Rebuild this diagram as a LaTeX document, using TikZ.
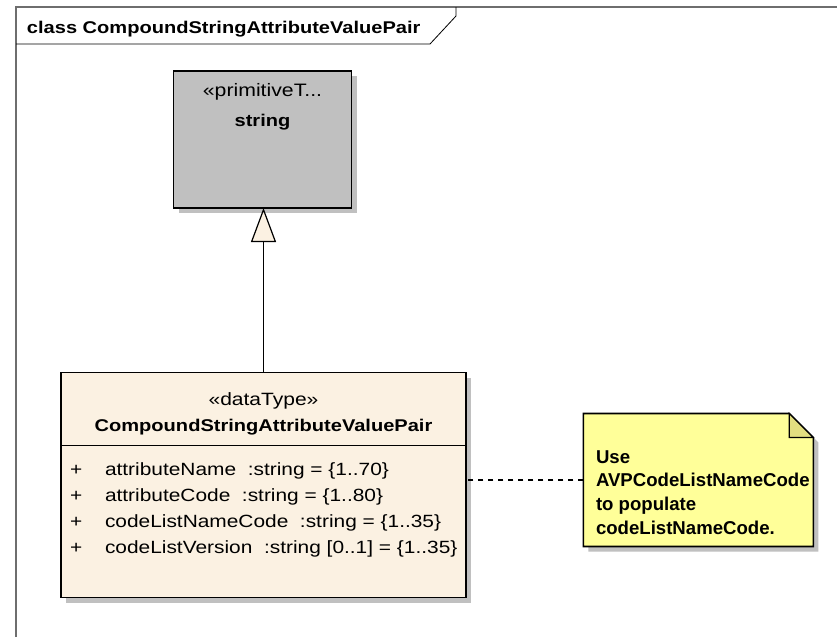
\documentclass[tikz,border=0pt]{standalone}
\usepackage{fontspec}
\setmainfont{Liberation Sans}[FakeStretch=1.18]
\newfontfamily\notefont{Liberation Sans}
\usetikzlibrary{arrows.meta,shadows,calc}
\newcommand\fsz[1]{\fontsize{#1}{#1}\selectfont}
\definecolor{dtfill}{RGB}{251,241,226}
\definecolor{notefill}{RGB}{255,255,153}
\definecolor{foldfill}{RGB}{226,222,128}
\definecolor{primfill}{RGB}{192,192,192}
\definecolor{shadowc}{RGB}{192,192,192}
\definecolor{framec}{RGB}{110,110,110}
\tikzset{
  box/.style={draw=black, line width=1.6pt, rectangle, inner sep=0pt, outer sep=0pt,
    drop shadow={shadow xshift=5pt, shadow yshift=-5pt, fill=shadowc, opacity=1}},
  txt/.style={inner sep=0pt, outer sep=0pt, anchor=base, font=\fsz{17.8}},
  attr/.style={inner sep=0pt, outer sep=0pt, anchor=base west, font=\fsz{17.7}},
  notetxt/.style={inner sep=0pt, outer sep=0pt, anchor=base west, font=\notefont\bfseries\fsz{18.6}},
}
\begin{document}
\begin{tikzpicture}[x=1pt,y=-1pt]
\useasboundingbox (0,0) rectangle (837,637);
\fill[white] (0,0) rectangle (837,637);
% frame
\draw[framec, line width=1.5pt] (16,637) -- (16,7) -- (837,7);
\draw[black, line width=0.8pt] (16,44) -- (430,44) -- (456,16) -- (456,7);
\node[txt, anchor=base west, font=\bfseries\fsz{17}] (title) at (27,33.3) {class CompoundStringAttributeValuePair};

% primitive type string
\node[box, fill=primfill, minimum width=178pt, minimum height=137pt] (str) at (262.5,139.5) {};
\node[txt, font=\fsz{18}] (strst) at (str.north |- 0,96.7) {«primitiveT...};
\node[txt, font=\bfseries\fsz{17}] (strnm) at (str.north |- 0,126.7) {string};

% data type
\node[box, fill=dtfill, minimum width=405pt, minimum height=225pt] (dt) at (263.5,485) {};
\draw[line width=1.6pt] ($(dt.north west)+(0,73)$) -- ($(dt.north east)+(0,73)$);
\node[txt] (dtst) at (dt.north |- 0,405) {«dataType»};
\node[txt, font=\bfseries\fsz{17}] (dtnm) at (dt.north |- 0,431) {CompoundStringAttributeValuePair};
\node[attr] (p1) at (70,475) {+};
\node[attr] (p2) at (70,501) {+};
\node[attr] (p3) at (70,527) {+};
\node[attr] (p4) at (70,553) {+};
\node[attr] (a1) at (105,475) {attributeName\ \ :string = \{1..70\}};
\node[attr] (a2) at (105,501) {attributeCode\ \ :string = \{1..80\}};
\node[attr] (a3) at (105,527) {codeListNameCode\ \ :string = \{1..35\}};
\node[attr] (a4) at (105,553) {codeListVersion\ \ :string [0..1] = \{1..35\}};

% generalization
\draw[line width=1.2pt, -{Triangle[open, length=34pt, width=25pt, fill=dtfill, line width=1.2pt]}] (dt.north) -- (dt.north |- str.south);

% note
\node[inner sep=0pt, outer sep=0pt, minimum width=230pt, minimum height=133pt] (note) at (698.3,480) {};
\filldraw[fill=notefill, draw=black, line width=1.6pt,
  drop shadow={shadow xshift=5pt, shadow yshift=-5pt, fill=shadowc, opacity=1}]
  (note.north west) -- ([xshift=-24pt]note.north east) -- ([yshift=-24pt]note.north east)
  -- (note.south east) -- (note.south west) -- cycle;
\filldraw[fill=foldfill, draw=black, line width=1.2pt]
  ([xshift=-24pt]note.north east) -- ([xshift=-24pt,yshift=-24pt]note.north east)
  -- ([yshift=-24pt]note.north east) -- cycle;
\node[notetxt] (n1) at (596,463.3) {Use};
\node[notetxt] (n2) at (596,486.9) {AVPCodeListNameCode};
\node[notetxt] (n3) at (596,510.5) {to populate};
\node[notetxt] (n4) at (596,534.1) {codeListNameCode.};

% note link
\draw[line width=1.2pt, dash pattern=on 5pt off 5pt] (note.west) -- (note.west -| dt.east);
\end{tikzpicture}
\end{document}
